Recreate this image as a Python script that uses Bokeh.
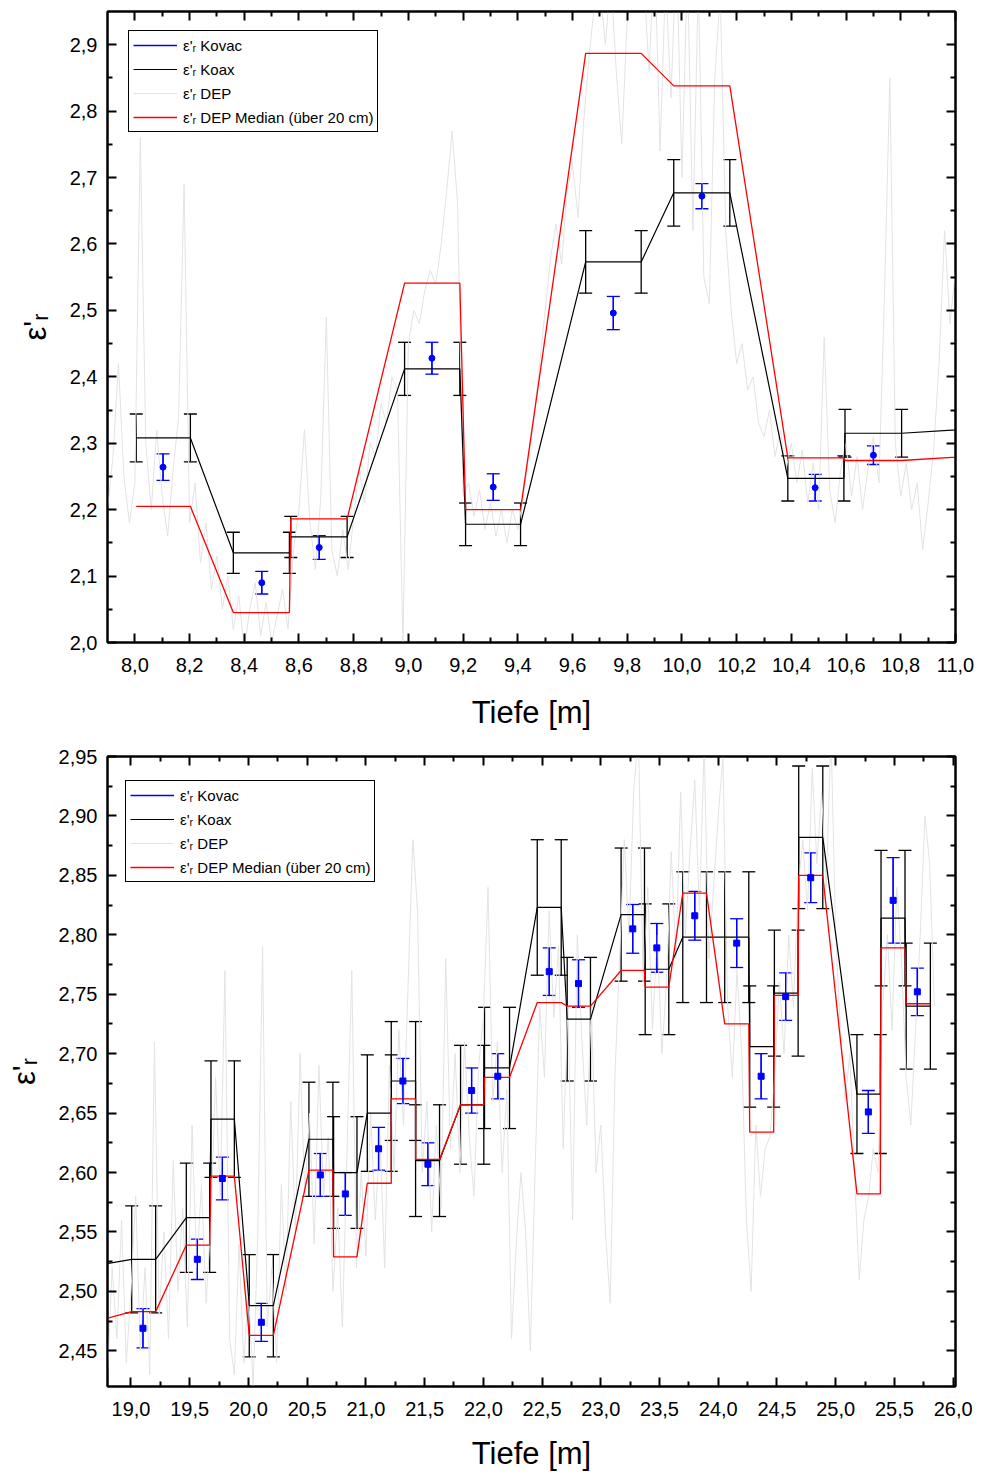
import numpy as np
from bokeh.plotting import figure
from bokeh.models import (ColumnDataSource, Whisker, TeeHead, FixedTicker, LinearAxis,
                          CustomJSTickFormatter, Range1d, Legend, LegendItem)
from bokeh.layouts import column
from bokeh.embed import file_html
from bokeh.resources import INLINE

# ---------------- top panel data (8.0 - 11.0 m) ----------------
top_seg_start = [8.005, 8.360, 8.570, 8.986, 9.209, 9.648, 9.970, 10.387, 10.596, 11.200]
top_seg_end   = [8.203, 8.565, 8.776, 9.188, 9.410, 9.851, 10.175, 10.592, 10.803, 11.400]
top_koax      = [2.308, 2.135, 2.159, 2.412, 2.178, 2.573, 2.677, 2.247, 2.315, 2.325]
top_koax_err  = [0.036, 0.031, 0.031, 0.040, 0.032, 0.047, 0.050, 0.034, 0.036, 0.036]
top_median    = [2.205, 2.045, 2.186, 2.541, 2.200, 2.887, 2.838, 2.278, 2.274, 2.284]

top_kovac_depth = [8.103, 8.464, 8.674, 9.086, 9.310, 9.749, 10.073, 10.487, 10.700]
top_kovac       = [2.264, 2.090, 2.143, 2.428, 2.234, 2.496, 2.672, 2.233, 2.282]
top_kovac_err   = [0.020, 0.017, 0.018, 0.024, 0.020, 0.025, 0.019, 0.020, 0.014]

top_dep_first, top_dep_step = 7.90, 0.02
top_dep = [
    2.20, 2.28, 2.42, 2.25, 2.18, 2.24, 2.76, 2.30, 2.20, 2.32,
    2.22, 2.16, 2.26, 2.34, 2.69, 2.18, 2.24, 2.12, 2.18, 2.08,
    2.13, 2.05, 2.10, 2.02, 2.07, 1.99, 2.05, 2.09, 2.01, 2.06,
    2.00, 2.04, 2.08, 2.02, 2.14, 2.20, 2.32, 2.18, 2.11, 2.22,
    2.49, 2.14, 2.10, 2.17, 2.11, 2.19, 2.26, 2.21, 2.30, 2.28,
    2.36, 2.33, 2.40, 2.38, 2.00, 2.45, 2.50, 2.48, 2.53, 2.56,
    2.54, 2.60, 2.68, 2.77, 2.66, 2.22, 2.24, 2.19, 2.23, 2.17,
    2.21, 2.16, 2.20, 2.15, 2.20, 2.17, 2.22, 2.28, 2.34, 2.42,
    2.50, 2.58, 2.63, 2.57, 2.68, 2.72, 2.64, 2.78, 2.88, 2.96,
    2.99, 2.90, 3.00, 2.86, 2.75, 2.94, 3.02, 2.96, 3.00, 2.86,
    3.05, 2.74, 3.00, 2.82, 3.05, 2.70, 3.02, 2.62, 3.00, 2.55,
    2.51, 2.85, 2.98, 2.62, 2.50, 2.42, 2.45, 2.38, 2.40, 2.33,
    2.31, 2.35, 2.28, 2.32, 2.26, 2.30, 2.24, 2.29, 2.21, 2.27,
    2.20, 2.46, 2.23, 2.18, 2.26, 2.30, 2.22, 2.28, 2.20, 2.26,
    2.31, 2.24, 2.52, 2.85, 2.30, 2.22, 2.27, 2.20, 2.24, 2.14,
    2.21, 2.29, 2.42, 2.62, 2.48, 2.56,
]

# ---------------- bottom panel data (19 - 26 m) ----------------
bot_seg_start = [18.400, 19.006, 19.471, 19.681, 20.007, 20.515, 20.725, 21.012, 21.216, 21.423,
                 21.806, 22.010, 22.459, 22.714, 23.173, 23.378, 23.698, 24.055, 24.268, 24.478,
                 24.685, 25.181, 25.386, 25.600]
bot_seg_end   = [18.600, 19.210, 19.670, 19.880, 20.212, 20.719, 20.924, 21.216, 21.423, 21.627,
                 22.004, 22.223, 22.663, 22.912, 23.372, 23.579, 23.900, 24.260, 24.472, 24.680,
                 24.890, 25.380, 25.590, 25.806]
bot_koax      = [2.520, 2.527, 2.562, 2.645, 2.488, 2.628, 2.600, 2.650, 2.677, 2.610,
                 2.657, 2.688, 2.823, 2.729, 2.817, 2.771, 2.798, 2.798, 2.706, 2.751,
                 2.882, 2.666, 2.814, 2.740]
bot_koax_err  = [0.045, 0.045, 0.046, 0.049, 0.043, 0.048, 0.047, 0.049, 0.050, 0.047,
                 0.050, 0.051, 0.057, 0.052, 0.056, 0.055, 0.055, 0.055, 0.051, 0.053,
                 0.060, 0.050, 0.057, 0.053]
bot_median    = [2.472, 2.483, 2.539, 2.597, 2.463, 2.602, 2.529, 2.591, 2.662, 2.611,
                 2.657, 2.680, 2.743, 2.740, 2.770, 2.756, 2.835, 2.725, 2.634, 2.749,
                 2.850, 2.582, 2.789, 2.742]

bot_kovac_depth = [19.102, 19.565, 19.778, 20.110, 20.612, 20.825, 21.108, 21.315, 21.528, 21.900,
                   22.123, 22.561, 22.810, 23.272, 23.477, 23.800, 24.157, 24.365, 24.574, 24.787,
                   25.278, 25.489, 25.695]
bot_kovac       = [2.469, 2.527, 2.595, 2.474, 2.598, 2.582, 2.620, 2.677, 2.607, 2.669,
                   2.681, 2.769, 2.759, 2.805, 2.789, 2.816, 2.793, 2.681, 2.748, 2.848,
                   2.651, 2.829, 2.752]
bot_kovac_err   = [0.0165, 0.017, 0.018, 0.016, 0.018, 0.018, 0.018, 0.019, 0.018, 0.019,
                   0.019, 0.020, 0.020, 0.0205, 0.0205, 0.0205, 0.0205, 0.019, 0.020, 0.021,
                   0.018, 0.036, 0.020]

bot_dep_first, bot_dep_step = 18.80, 0.04
bot_dep = [
    2.43, 2.52, 2.46, 2.56, 2.44, 2.50, 2.58, 2.45, 2.52, 2.43,
    2.71, 2.48, 2.55, 2.46, 2.61, 2.50, 2.57, 2.47, 2.64, 2.52,
    2.59, 2.49, 2.56, 2.68, 2.58, 2.77, 2.46, 2.43, 2.54, 2.44,
    2.50, 2.42, 2.55, 2.79, 2.47, 2.52, 2.44, 2.59, 2.50, 2.66,
    2.55, 2.70, 2.58, 2.65, 2.54, 2.69, 2.58, 2.63, 2.50, 2.57,
    2.47, 2.62, 2.77, 2.52, 2.60, 2.53, 2.65, 2.56, 2.63, 2.52,
    2.69, 2.60, 2.72, 2.64, 2.76, 2.88, 2.82, 2.60, 2.66, 2.55,
    2.64, 2.57, 2.78, 2.62, 2.70, 2.60, 2.71, 2.63, 2.58, 2.69,
    2.73, 2.84, 2.66, 2.71, 2.60, 2.67, 2.46, 2.54, 2.60, 2.55,
    2.45, 2.60, 2.74, 2.68, 2.82, 2.73, 2.79, 2.62, 2.74, 2.56,
    2.80, 2.71, 2.64, 2.74, 2.60, 2.64, 2.55, 2.49, 2.68, 2.78,
    2.88, 2.80, 2.92, 2.97, 2.76, 2.84, 2.72, 2.80, 2.70, 2.76,
    2.87, 2.78, 2.92, 2.80, 2.87, 2.93, 2.82, 2.96, 2.78, 2.84,
    2.90, 2.95, 2.74, 2.68, 2.77, 2.70, 2.56, 2.50, 2.64, 2.58,
    2.62, 2.63, 2.68, 2.76, 2.70, 2.80, 2.74, 2.84, 2.88, 2.82,
    2.94, 2.86, 2.92, 2.84, 2.97, 2.80, 2.72, 2.66, 2.70, 2.60,
    2.51, 2.56, 2.58, 2.62, 2.60, 2.74, 2.80, 2.72, 2.84, 2.78,
    2.68, 2.64, 2.72, 2.80, 2.90, 2.86, 2.74,
]

top_x_major = [8.0, 8.2, 8.4, 8.6, 8.8, 9.0, 9.2, 9.4, 9.6, 9.8, 10.0, 10.2, 10.4, 10.6, 10.8, 11.0]
top_y_major = [2.0, 2.1, 2.2, 2.3, 2.4, 2.5, 2.6, 2.7, 2.8, 2.9]
bot_x_major = [19.0, 19.5, 20.0, 20.5, 21.0, 21.5, 22.0, 22.5, 23.0, 23.5, 24.0, 24.5, 25.0, 25.5, 26.0]
bot_y_major = [2.45, 2.50, 2.55, 2.60, 2.65, 2.70, 2.75, 2.80, 2.85, 2.90, 2.95]

FONT = "Liberation Sans"
LEG_LABELS = ["\u03b5'\u1d63 Kovac", "\u03b5'\u1d63 Koax", "\u03b5'\u1d63 DEP",
              "\u03b5'\u1d63 DEP Median (\u00fcber 20 cm)"]


def fmt(dec):
    return CustomJSTickFormatter(code="return tick.toFixed(%d).replace('.', ',');" % dec)


def minor_between(major, n):
    out = []
    for a, b in zip(major[:-1], major[1:]):
        for k in range(1, n):
            out.append(a + (b - a) * k / n)
    return out


def style_axes(p, xmaj, ymaj, xdec, ydec, xlab_standoff):
    xt = FixedTicker(ticks=xmaj, minor_ticks=minor_between(xmaj, 2))
    yt = FixedTicker(ticks=ymaj, minor_ticks=minor_between(ymaj, 2))
    bottom_ax = p.below[0]
    left_ax = p.left[0]
    top_ax = LinearAxis(ticker=xt, formatter=CustomJSTickFormatter(code="return '';"))
    right_ax = LinearAxis(ticker=yt, formatter=CustomJSTickFormatter(code="return '';"))
    p.add_layout(top_ax, "above")
    p.add_layout(right_ax, "right")
    for ax in [bottom_ax, left_ax, top_ax, right_ax]:
        ax.major_tick_in = 9
        ax.major_tick_out = 0
        ax.minor_tick_in = 5
        ax.minor_tick_out = 0
        ax.axis_line_width = 2
        ax.major_tick_line_width = 2
        ax.minor_tick_line_width = 2
        ax.axis_line_color = "black"
        ax.major_tick_line_color = "black"
        ax.minor_tick_line_color = "black"
        ax.major_label_text_font = FONT
        ax.major_label_text_font_size = "20px"
        ax.major_label_text_color = "black"
    bottom_ax.ticker = xt
    left_ax.ticker = yt
    bottom_ax.formatter = fmt(xdec)
    left_ax.formatter = fmt(ydec)
    for ax in [top_ax, right_ax]:
        ax.major_label_standoff = 0
    bottom_ax.major_label_standoff = 15
    left_ax.major_label_standoff = 10
    bottom_ax.axis_label = "Tiefe [m]"
    left_ax.axis_label = "\u03b5'\u1d63"
    for ax in [bottom_ax, left_ax]:
        ax.axis_label_text_font = FONT
        ax.axis_label_text_font_size = "31px"
        ax.axis_label_text_font_style = "normal"
        ax.axis_label_text_color = "black"
    bottom_ax.axis_label_standoff = xlab_standoff
    left_ax.axis_label_standoff = 14
    p.xgrid.visible = False
    p.ygrid.visible = False
    p.outline_line_color = "black"
    p.outline_line_width = 2


def build(xr, yr, height, top_b, bot_b, seg_s, seg_e, koax, koax_err, median,
          kd, kv, ke, dep_first, dep_step, dep, xmaj, ymaj, xdec, ydec, marker, leg_loc,
          xlab_standoff):
    p = figure(width=983, height=height, x_range=Range1d(*xr), y_range=Range1d(*yr),
               output_backend="svg", toolbar_location=None,
               min_border_left=107, min_border_right=28, min_border_top=top_b,
               min_border_bottom=bot_b, background_fill_color="white",
               border_fill_color="white")
    style_axes(p, xmaj, ymaj, xdec, ydec, xlab_standoff)

    dep_x = np.round(dep_first + dep_step * np.arange(len(dep)), 3)
    r_dep = p.line(dep_x, dep, line_color="#e3e3e3", line_width=1)

    seg_x = [v for pair in zip(seg_s, seg_e) for v in pair]
    koax_y = [v for v in koax for _ in (0, 1)]
    koax_e = [v for v in koax_err for _ in (0, 1)]
    med_y = [v for v in median for _ in (0, 1)]

    r_koax = p.line(seg_x, koax_y, line_color="black", line_width=1.2)
    r_med = p.line(seg_x, med_y, line_color="#ff0000", line_width=1.3)

    ksrc = ColumnDataSource(dict(x=seg_x,
                                 up=[a + b for a, b in zip(koax_y, koax_e)],
                                 lo=[a - b for a, b in zip(koax_y, koax_e)]))
    wk = Whisker(source=ksrc, base="x", upper="up", lower="lo", dimension="height",
                 line_color="black", line_width=1.3,
                 upper_head=TeeHead(size=13, line_color="black", line_width=1.3),
                 lower_head=TeeHead(size=13, line_color="black", line_width=1.3))
    p.add_layout(wk)

    bsrc = ColumnDataSource(dict(x=kd, y=kv,
                                 up=[a + b for a, b in zip(kv, ke)],
                                 lo=[a - b for a, b in zip(kv, ke)]))
    # vertical error bar bodies (also serve as the legend glyph: a blue line)
    r_kov_bar = p.segment(x0="x", y0="lo", x1="x", y1="up", source=bsrc,
                          line_color="#0000ff", line_width=1.3)
    wb = Whisker(source=bsrc, base="x", upper="up", lower="lo", dimension="height",
                 line_color="#0000ff", line_width=1.3,
                 upper_head=TeeHead(size=13, line_color="#0000ff", line_width=1.3),
                 lower_head=TeeHead(size=13, line_color="#0000ff", line_width=1.3))
    p.add_layout(wb)
    p.scatter("x", "y", source=bsrc, marker=marker, size=6, fill_color="#0000ff",
              line_color="#0000ff")

    legend = Legend(items=[LegendItem(label=LEG_LABELS[0], renderers=[r_kov_bar]),
                           LegendItem(label=LEG_LABELS[1], renderers=[r_koax]),
                           LegendItem(label=LEG_LABELS[2], renderers=[r_dep]),
                           LegendItem(label=LEG_LABELS[3], renderers=[r_med])],
                    location=leg_loc, label_text_font=FONT, label_text_font_size="15px",
                    label_text_color="black",
                    border_line_color="black", border_line_width=1, border_line_alpha=1,
                    background_fill_color="white", background_fill_alpha=1,
                    padding=4, spacing=4, glyph_width=44, glyph_height=20, label_height=20,
                    label_standoff=6, margin=0)
    p.add_layout(legend)
    return p


p1 = build((7.9, 11.0), (2.0, 2.95), 744, 11, 102,
           top_seg_start, top_seg_end, top_koax, top_koax_err, top_median,
           top_kovac_depth, top_kovac, top_kovac_err, top_dep_first, top_dep_step, top_dep,
           top_x_major, top_y_major, 1, 1, "circle", (21, 510), 20)
p2 = build((18.8, 26.02), (2.42, 2.95), 730, 12, 88,
           bot_seg_start, bot_seg_end, bot_koax, bot_koax_err, bot_median,
           bot_kovac_depth, bot_kovac, bot_kovac_err, bot_dep_first, bot_dep_step, bot_dep,
           bot_x_major, bot_y_major, 1, 2, "square", (18, 504), 17)

layout = column(p1, p2, spacing=0)
open("out.html", "w").write(file_html(layout, INLINE))
